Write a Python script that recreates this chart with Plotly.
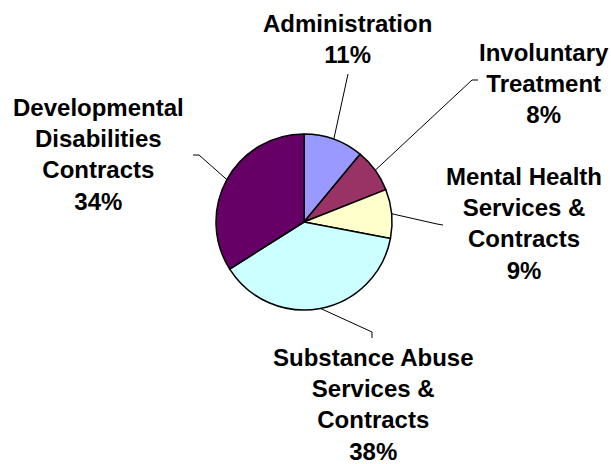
import math
import plotly.graph_objects as go

# Budget shares by program area
categories = [
    "Administration",
    "Involuntary Treatment",
    "Mental Health Services & Contracts",
    "Substance Abuse Services & Contracts",
    "Developmental Disabilities Contracts",
]
shares = [11, 8, 9, 38, 34]
label_lines = [
    ["Administration"],
    ["Involuntary", "Treatment"],
    ["Mental Health", "Services &", "Contracts"],
    ["Substance Abuse", "Services &", "Contracts"],
    ["Developmental", "Disabilities", "Contracts"],
]
colors = ["#9999FF", "#993366", "#FFFFCC", "#CCFFFF", "#660066"]

W, H = 611, 464
CX, CY, R = 304, 222, 88

# label block centres (px) and leader elbow / tail points (px)
label_pos = [(347, 39), (544, 83), (524, 223), (373, 404), (98, 154)]
leader_elbow = [(348, 74), (472, 80), (437, 224), (372, 332), (199, 155)]
leader_tail = [None, (478, 80), (443, 225), (372, 338), (193, 155)]


def px(x, y):
    return x / W, 1 - y / H


fig = go.Figure(
    go.Pie(
        labels=categories,
        values=shares,
        sort=False,
        direction="clockwise",
        rotation=0,
        marker=dict(colors=colors, line=dict(color="black", width=1.5)),
        textinfo="none",
        hoverinfo="label+percent",
        domain=dict(
            x=[(CX - R) / W, (CX + R) / W],
            y=[1 - (CY + R) / H, 1 - (CY - R) / H],
        ),
    )
)

total = sum(shares)
cum = 0.0
shapes = []
annotations = []
for i, v in enumerate(shares):
    mid = (cum + v / 2) / total * 2 * math.pi
    cum += v
    sx = CX + R * math.sin(mid)
    sy = CY - R * math.cos(mid)
    pts = [(sx, sy), leader_elbow[i]]
    if leader_tail[i] is not None:
        pts.append(leader_tail[i])
    for (x0, y0), (x1, y1) in zip(pts[:-1], pts[1:]):
        a0, b0 = px(x0, y0)
        a1, b1 = px(x1, y1)
        shapes.append(dict(type="line", xref="paper", yref="paper",
                           x0=a0, y0=b0, x1=a1, y1=b1,
                           line=dict(color="black", width=1)))
    pct = round(v / total * 100)
    text = "<br>".join(label_lines[i] + [f"{pct}%"])
    ax, ay = px(*label_pos[i])
    annotations.append(dict(
        x=ax, y=ay, xref="paper", yref="paper", text=text, showarrow=False,
        xanchor="center", yanchor="middle", align="center",
        font=dict(family="Liberation Sans, Arial, sans-serif", size=24,
                  color="black", weight=700),
    ))

fig.update_layout(
    width=W, height=H,
    margin=dict(l=0, r=0, t=0, b=0),
    paper_bgcolor="white",
    plot_bgcolor="white",
    showlegend=False,
    shapes=shapes,
    annotations=annotations,
)

fig.write_html("out.html")
